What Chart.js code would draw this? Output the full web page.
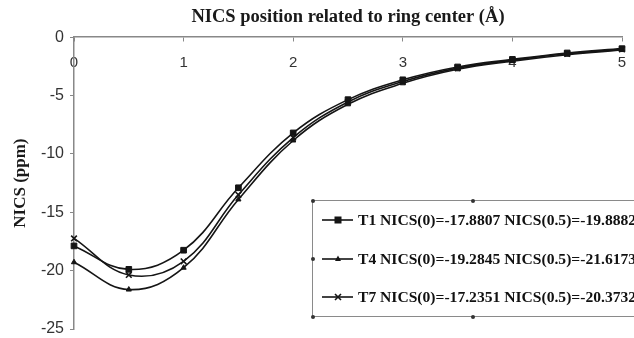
<!DOCTYPE html>
<html>
<head>
<meta charset="utf-8">
<script src="https://cdn.jsdelivr.net/npm/chart.js@4"></script>
<style>
  html, body { margin: 0; padding: 0; background: #fff; overflow: hidden; }
  #wrap { position: relative; width: 634px; height: 338px; overflow: hidden; }
  #c { position: absolute; left: 0; top: 0; }
  #legend { position: absolute; left: 312px; top: 200px; width: 324px; height: 117px;
            border: 1px solid #8a8a8a; box-sizing: border-box; font-family: "Liberation Serif", serif;
            font-weight: bold; font-size: 15.6px; color: #111; }
  .row { position: absolute; left: 9px; height: 20px; display: flex; align-items: center; white-space: nowrap; }
  .row canvas { margin-right: 3px; }
  .h { position: absolute; width: 4px; height: 4px; background: #333; border-radius: 2px; }
</style>
</head>
<body>
<div id="wrap">
  <canvas id="c" width="634" height="338"></canvas>
  <div id="legend"></div>
</div>
<script>
const xValues = [0, 0.5, 1, 1.5, 2, 2.5, 3, 3.5, 4, 4.5, 5];
const seriesNames = [
  "T1 NICS(0)=-17.8807 NICS(0.5)=-19.8882",
  "T4 NICS(0)=-19.2845 NICS(0.5)=-21.6173",
  "T7 NICS(0)=-17.2351 NICS(0.5)=-20.3732"
];
const t1 = [-17.88, -19.89, -18.25, -12.9, -8.2, -5.35, -3.65, -2.55, -1.9, -1.35, -0.98];
const t4 = [-19.28, -21.62, -19.75, -13.9, -8.85, -5.75, -3.95, -2.75, -2.05, -1.5, -1.1];
const t7 = [-17.24, -20.37, -19.2, -13.5, -8.6, -5.55, -3.8, -2.65, -1.97, -1.42, -1.04];
const yTicks = [0, -5, -10, -15, -20, -25];
const xTicks = [0, 1, 2, 3, 4, 5];
const markers = ['rect', 'triangle', 'crossRot'];
const markerSizes = [4, 3, 4];

const allSeries = [t1, t4, t7];
const datasets = allSeries.map((s, i) => ({
  label: seriesNames[i],
  data: xValues.map((x, j) => ({ x: x, y: s[j] })),
  borderColor: '#151515',
  backgroundColor: '#151515',
  borderWidth: 1.6,
  pointStyle: markers[i],
  pointRadius: markerSizes[i],
  pointBorderWidth: i === 2 ? 1.6 : 1,
  tension: 0.4,
  clip: false,
  fill: false
}));

new Chart(document.getElementById('c'), {
  type: 'line',
  data: { datasets: datasets },
  options: {
    responsive: false,
    animation: false,
    layout: { padding: { left: 0, right: 12, top: 0, bottom: 9 } },
    plugins: {
      legend: { display: false },
      tooltip: { enabled: false },
      title: {
        display: true,
        fullSize: false,
        text: 'NICS position related to ring center (Å)',
        color: '#1a1a1a',
        font: { family: '"Liberation Serif", serif', size: 18.5, weight: 'bold' },
        padding: { top: 6, bottom: 9 }
      }
    },
    scales: {
      x: {
        type: 'linear',
        position: { y: 0 },
        min: 0, max: 5,
        afterBuildTicks: (axis) => { axis.ticks = xTicks.map(v => ({ value: v })); },
        afterFit: (axis) => { axis.height = 0; axis.paddingLeft = 0; axis.paddingRight = 0; },
        ticks: { color: '#333', font: { family: '"Liberation Sans", Arial', size: 15 }, padding: 13 },
        grid: { display: true, drawOnChartArea: false, drawTicks: true, tickLength: 4, color: '#888' },
        border: { display: true, color: '#888', width: 1.5 }
      },
      y: {
        type: 'linear',
        position: 'left',
        min: -25, max: 0,
        afterBuildTicks: (axis) => { axis.ticks = yTicks.map(v => ({ value: v })); },
        afterFit: (axis) => { axis.width = 74; axis.paddingTop = 0; axis.paddingBottom = 0; },
        ticks: { color: '#333', font: { family: '"Liberation Sans", Arial', size: 16 }, padding: 6 },
        grid: { display: true, drawOnChartArea: false, drawTicks: true, tickLength: 4, color: '#888' },
        border: { display: true, color: '#888', width: 1.5 },
        title: {
          display: true,
          text: 'NICS (ppm)',
          color: '#1a1a1a',
          font: { family: '"Liberation Serif", serif', size: 17, weight: 'bold' },
          padding: { top: 10, bottom: 4 }
        }
      }
    }
  }
});

// Legend overlay (HTML text)
const legend = document.getElementById('legend');
const rowTops = [9, 48, 86];
seriesNames.forEach((name, i) => {
  const row = document.createElement('div');
  row.className = 'row';
  row.style.top = rowTops[i] + 'px';
  const cv = document.createElement('canvas');
  cv.width = 33; cv.height = 20;
  const ctx = cv.getContext('2d');
  ctx.strokeStyle = '#151515'; ctx.fillStyle = '#151515'; ctx.lineWidth = 1.6;
  ctx.beginPath(); ctx.moveTo(0, 10); ctx.lineTo(31, 10); ctx.stroke();
  const cx = 16, cy = 10;
  if (markers[i] === 'rect') { ctx.fillRect(cx - 3.5, cy - 3.5, 7, 7); }
  else if (markers[i] === 'triangle') { ctx.beginPath(); ctx.moveTo(cx, cy - 3.5); ctx.lineTo(cx + 3, cy + 2); ctx.lineTo(cx - 3, cy + 2); ctx.closePath(); ctx.fill(); }
  else { ctx.beginPath(); ctx.moveTo(cx - 3, cy - 3); ctx.lineTo(cx + 3, cy + 3); ctx.moveTo(cx + 3, cy - 3); ctx.lineTo(cx - 3, cy + 3); ctx.stroke(); }
  row.appendChild(cv);
  const sp = document.createElement('span');
  sp.textContent = name;
  row.appendChild(sp);
  legend.appendChild(row);
});
// selection handles
[[-2, -2], [-2, 56], [-2, 114], [158, -2], [158, 114]].forEach(([l, t]) => {
  const h = document.createElement('div');
  h.className = 'h';
  h.style.left = l + 'px'; h.style.top = t + 'px';
  legend.appendChild(h);
});
</script>
</body>
</html>
